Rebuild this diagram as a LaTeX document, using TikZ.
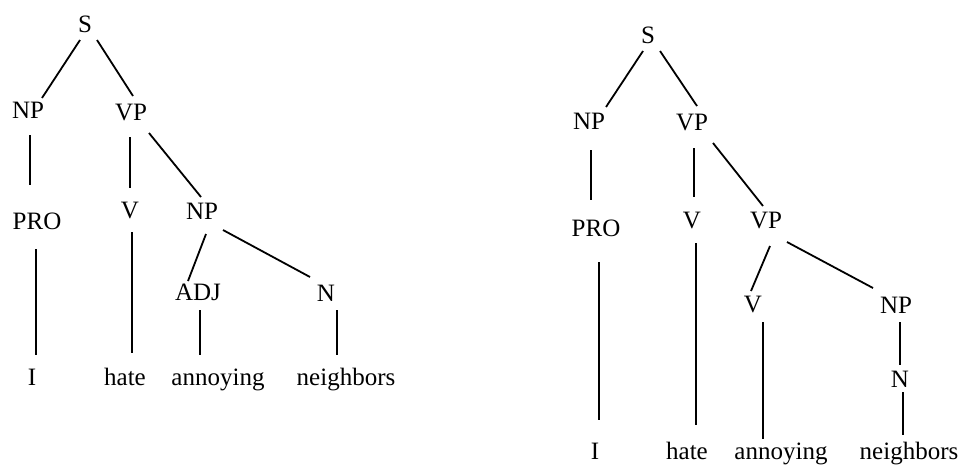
\documentclass[tikz,border=0pt]{standalone}
\usepackage{fontspec}
\setmainfont{Liberation Serif}
\begin{document}
\begin{tikzpicture}[x=1pt,y=-1pt,
  lbl/.style={anchor=base, inner sep=0pt, font=\fontsize{25}{30}\selectfont},
  branch/.style={line width=1.8pt, black}]
\useasboundingbox[fill=white] (0,0) rectangle (960,464);

% ---- first tree: [S [NP PRO I] [VP [V hate] [NP [ADJ annoying] [N neighbors]]]]
\node[lbl] (aS)     at (85,32)   {S};
\node[lbl] (aNP)    at (28,118)  {NP};
\node[lbl] (aVP)    at (131,120) {VP};
\node[lbl] (aPRO)   at (37,229)  {PRO};
\node[lbl] (aV)     at (130,218) {V};
\node[lbl] (aNPb)   at (202,219) {NP};
\node[lbl] (aADJ)   at (198,300) {ADJ};
\node[lbl] (aN)     at (326,301) {N};
\node[lbl] (aI)     at (32,385)  {I};
\node[lbl] (ahate)  at (125,385) {hate};
\node[lbl] (aann)   at (218,385) {annoying};
\node[lbl] (aneigh) at (346,385) {neighbors};

\draw[branch] ([shift={(-5,8)}]aS.base)    -- ([shift={(14,-20)}]aNP.base);
\draw[branch] ([shift={(12,8)}]aS.base)    -- ([shift={(2,-24)}]aVP.base);
\draw[branch] ([shift={(2,17)}]aNP.base)   -- ([shift={(-7,-44)}]aPRO.base);
\draw[branch] ([shift={(-1,17)}]aVP.base)  -- ([shift={(0,-30)}]aV.base);
\draw[branch] ([shift={(18,13)}]aVP.base)  -- ([shift={(-1,-22)}]aNPb.base);
\draw[branch] ([shift={(2,14)}]aV.base)    -- ([shift={(7,-32)}]ahate.base);
\draw[branch] ([shift={(4,15)}]aNPb.base)  -- ([shift={(-10,-19)}]aADJ.base);
\draw[branch] ([shift={(21,11)}]aNPb.base) -- ([shift={(-16,-24)}]aN.base);
\draw[branch] ([shift={(-1,20)}]aPRO.base) -- ([shift={(4,-30)}]aI.base);
\draw[branch] ([shift={(2,10)}]aADJ.base)  -- ([shift={(-18,-30)}]aann.base);
\draw[branch] ([shift={(11,9)}]aN.base)    -- ([shift={(-9,-30)}]aneigh.base);

% ---- second tree: [S [NP PRO I] [VP [V hate] [VP [V annoying] [NP [N neighbors]]]]]
\node[lbl] (bS)     at (648,43)  {S};
\node[lbl] (bNP)    at (589,129) {NP};
\node[lbl] (bVP)    at (692,130) {VP};
\node[lbl] (bPRO)   at (596,236) {PRO};
\node[lbl] (bV)     at (692,228) {V};
\node[lbl] (bVPb)   at (766,228) {VP};
\node[lbl] (bVc)    at (753,312) {V};
\node[lbl] (bNPc)   at (896,313) {NP};
\node[lbl] (bN)     at (900,387) {N};
\node[lbl] (bI)     at (595,459) {I};
\node[lbl] (bhate)  at (687,459) {hate};
\node[lbl] (bann)   at (781,459) {annoying};
\node[lbl] (bneigh) at (909,459) {neighbors};

\draw[branch] ([shift={(-5,8)}]bS.base)    -- ([shift={(17,-22)}]bNP.base);
\draw[branch] ([shift={(12,8)}]bS.base)    -- ([shift={(5,-24)}]bVP.base);
\draw[branch] ([shift={(2,21)}]bNP.base)   -- ([shift={(-5,-36)}]bPRO.base);
\draw[branch] ([shift={(2,18)}]bVP.base)   -- ([shift={(2,-31)}]bV.base);
\draw[branch] ([shift={(21,13)}]bVP.base)  -- ([shift={(-3,-22)}]bVPb.base);
\draw[branch] ([shift={(4,15)}]bV.base)    -- ([shift={(9,-34)}]bhate.base);
\draw[branch] ([shift={(4,18)}]bVPb.base)  -- ([shift={(-2,-21)}]bVc.base);
\draw[branch] ([shift={(21,14)}]bVPb.base) -- ([shift={(-23,-25)}]bNPc.base);
\draw[branch] ([shift={(3,26)}]bPRO.base)  -- ([shift={(4,-39)}]bI.base);
\draw[branch] ([shift={(10,10)}]bVc.base)  -- ([shift={(-18,-20)}]bann.base);
\draw[branch] ([shift={(4,9)}]bNPc.base)   -- ([shift={(0,-22)}]bN.base);
\draw[branch] ([shift={(3,5)}]bN.base)     -- ([shift={(-6,-24)}]bneigh.base);
\end{tikzpicture}
\end{document}
